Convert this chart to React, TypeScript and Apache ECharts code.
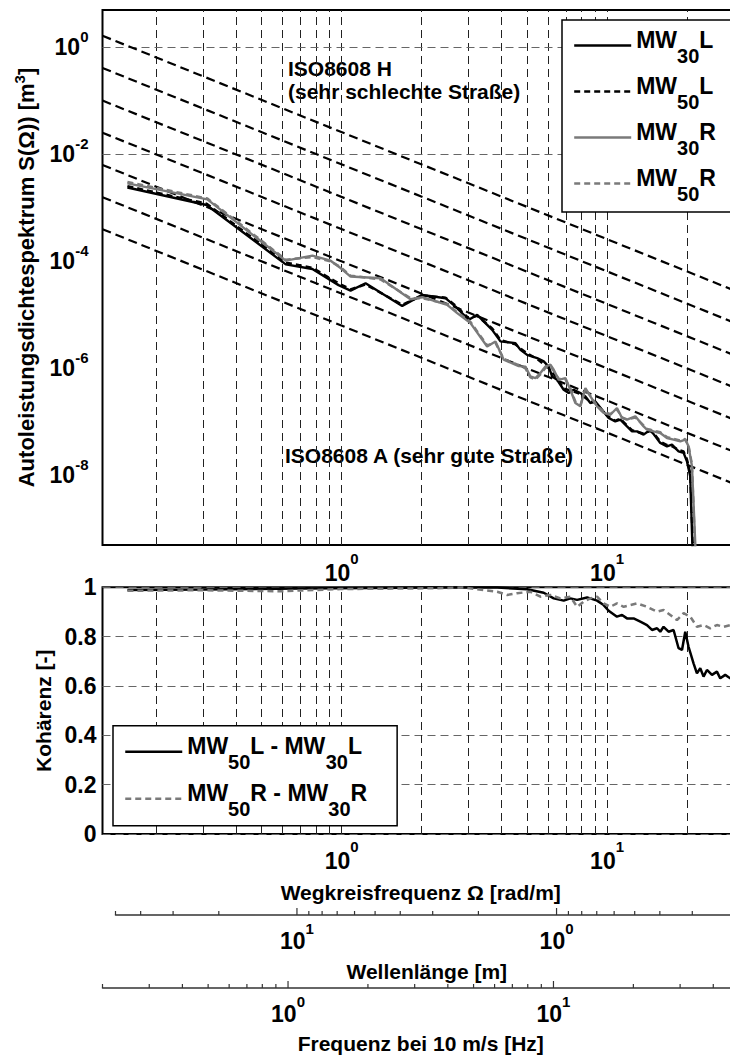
import { useEffect, useRef } from "react";
import * as echarts from "echarts";

type Pt = [number, number];

// Autoleistungsdichtespektrum: [Ω in rad/m, S(Ω) in m^3]
const psdMW30L: Pt[] = [
  [0.156, 2.4e-3], [0.31, 1.13e-3], [0.616, 8.8e-5], [0.776, 7.2e-5], [0.974, 3.6e-5],
  [1.081, 2.84e-5], [1.231, 3.9e-5], [1.692, 1.47e-5], [2.012, 2.36e-5], [2.463, 2.05e-5],
  [2.686, 1.43e-5], [3.014, 8.1e-6], [3.242, 1.0e-5], [3.692, 5.25e-6], [3.967, 3.2e-6],
  [4.518, 2.96e-6], [4.718, 2.22e-6], [5.0, 1.79e-6], [5.453, 1.56e-6], [5.773, 1.35e-6],
  [6.029, 1.08e-6], [6.209, 7.06e-7], [6.484, 6.12e-7], [6.866, 3.99e-7], [7.17, 3.46e-7],
  [7.488, 3.99e-7], [7.935, 3.46e-7], [8.287, 2.99e-7], [8.653, 2.25e-7], [9.036, 2.41e-7],
  [9.576, 1.69e-7], [10.14, 1.18e-7], [10.74, 1.02e-7], [11.22, 1.1e-7], [11.89, 8.24e-8],
  [12.42, 6.65e-8], [12.97, 6.65e-8], [13.73, 5.77e-8], [14.55, 7.15e-8], [15.2, 5.36e-8],
  [15.87, 4.04e-8], [16.82, 3.49e-8], [17.56, 3.76e-8], [18.6, 2.82e-8], [19.43, 2.63e-8],
  [20.0, 1.83e-8], [20.58, 9.6e-9], [21.18, 1e-10],
];
const psdMW50L: Pt[] = [
  [0.156, 2.55e-3], [0.31, 1.2e-3], [0.616, 9.5e-5], [0.776, 7.6e-5], [0.974, 3.9e-5],
  [1.081, 3.0e-5], [1.231, 3.7e-5], [1.692, 1.55e-5], [2.012, 2.3e-5], [2.463, 2.1e-5],
  [2.686, 1.5e-5], [3.014, 8.6e-6], [3.242, 9.6e-6], [3.692, 5.6e-6], [3.967, 3.4e-6],
  [4.518, 2.8e-6], [5.0, 1.9e-6], [5.453, 1.5e-6], [6.029, 1.0e-6], [6.484, 6.5e-7],
  [6.866, 4.2e-7], [7.488, 3.7e-7], [7.935, 3.3e-7], [8.653, 2.4e-7], [9.036, 2.3e-7],
  [9.576, 1.6e-7], [10.14, 1.25e-7], [10.74, 1.05e-7], [11.22, 1.15e-7], [11.89, 8.6e-8],
  [12.42, 7.0e-8], [13.73, 6.0e-8], [14.55, 6.8e-8], [15.2, 5.6e-8], [15.87, 4.3e-8],
  [16.82, 3.7e-8], [17.56, 3.5e-8], [18.6, 3.0e-8], [19.43, 2.8e-8], [20.0, 2.0e-8],
  [20.58, 1.1e-8], [21.3, 1e-10],
];
const psdMW30R: Pt[] = [
  [0.156, 2.86e-3], [0.312, 1.44e-3], [0.616, 1.03e-4], [0.776, 1.28e-4], [0.909, 1.03e-4],
  [0.991, 7.5e-5], [1.081, 5.2e-5], [1.402, 4.84e-5], [1.818, 1.96e-5], [2.012, 2.14e-5],
  [2.499, 1.54e-5], [2.726, 1.08e-5], [3.059, 7.0e-6], [3.534, 2.56e-6], [3.799, 3.18e-6],
  [4.082, 1.45e-6], [4.649, 1.1e-6], [4.926, 1.08e-6], [5.144, 7.06e-7], [5.372, 6.59e-7],
  [5.61, 8.17e-7], [5.86, 1.08e-6], [6.119, 1.17e-6], [6.296, 9.42e-7], [6.574, 6.12e-7],
  [6.968, 6.59e-7], [7.276, 3.99e-7], [7.598, 2.25e-7], [7.935, 1.95e-7], [8.287, 4.29e-7],
  [8.653, 2.99e-7], [9.171, 1.95e-7], [9.71, 1.47e-7], [10.29, 1.36e-7], [10.9, 1.82e-7],
  [11.39, 1.18e-7], [11.89, 1.1e-7], [12.78, 1.27e-7], [13.73, 8.24e-8], [14.14, 7.15e-8],
  [14.98, 6.65e-8], [15.87, 6.2e-8], [16.82, 5.0e-8], [17.81, 4.66e-8], [18.88, 4.33e-8],
  [19.71, 4.66e-8], [20.28, 3.49e-8], [20.89, 1.48e-8], [21.81, 1e-10],
];
const psdMW50R: Pt[] = [
  [0.156, 3.05e-3], [0.312, 1.5e-3], [0.616, 1.08e-4], [0.776, 1.2e-4], [0.909, 1.0e-4],
  [0.991, 7.8e-5], [1.081, 5.4e-5], [1.402, 4.6e-5], [1.818, 2.05e-5], [2.012, 2.05e-5],
  [2.499, 1.6e-5], [2.726, 1.12e-5], [3.059, 7.4e-6], [3.534, 2.7e-6], [3.799, 3.0e-6],
  [4.082, 1.5e-6], [4.649, 1.15e-6], [4.926, 1.0e-6], [5.144, 6.8e-7], [5.372, 6.2e-7],
  [5.61, 7.7e-7], [5.86, 1.02e-6], [6.119, 1.1e-6], [6.296, 9.0e-7], [6.574, 6.4e-7],
  [6.968, 6.2e-7], [7.276, 4.2e-7], [7.598, 2.4e-7], [7.935, 2.05e-7], [8.287, 4.0e-7],
  [8.653, 3.1e-7], [9.171, 2.0e-7], [9.71, 1.55e-7], [10.29, 1.4e-7], [10.9, 1.7e-7],
  [11.39, 1.22e-7], [11.89, 1.12e-7], [12.78, 1.2e-7], [13.73, 8.6e-8], [14.14, 7.4e-8],
  [14.98, 6.9e-8], [15.87, 6.4e-8], [16.82, 5.2e-8], [17.81, 4.8e-8], [18.88, 4.5e-8],
  [19.71, 4.8e-8], [20.28, 3.6e-8], [20.89, 1.6e-8], [21.7, 1e-10],
];

// Kohärenz: [Ω in rad/m, γ²]
const cohLeft: Pt[] = [
  [0.156, 0.989], [0.295, 0.991], [0.7, 0.995], [1.668, 0.998], [2.163, 0.999],
  [2.886, 0.999], [3.855, 0.999], [5.0, 0.992], [5.773, 0.978], [6.296, 0.955],
  [6.866, 0.946], [7.276, 0.955], [7.713, 0.949], [8.411, 0.959], [9.171, 0.946],
  [9.71, 0.928], [10.14, 0.905], [10.9, 0.881], [11.39, 0.888], [11.89, 0.874],
  [12.59, 0.874], [13.35, 0.861], [14.14, 0.847], [14.77, 0.827], [15.43, 0.834],
  [15.87, 0.82], [16.33, 0.84], [17.05, 0.82], [17.81, 0.827], [18.6, 0.753],
  [19.16, 0.746], [19.71, 0.82], [20.28, 0.759], [21.18, 0.692], [21.81, 0.651],
  [22.45, 0.672], [23.1, 0.638], [23.79, 0.665], [24.85, 0.645], [25.94, 0.658],
  [26.7, 0.631], [27.88, 0.645], [29.12, 0.631], [31.4, 0.64],
];
const cohRight: Pt[] = [
  [0.156, 0.986], [0.295, 0.988], [0.589, 0.984], [0.991, 0.993], [2.163, 0.996],
  [2.886, 0.999], [3.855, 0.982], [4.204, 0.969], [4.585, 0.976], [5.144, 0.982],
  [5.61, 0.962], [6.119, 0.969], [6.672, 0.955], [7.276, 0.962], [7.713, 0.921],
  [8.166, 0.942], [8.653, 0.955], [9.171, 0.962], [9.71, 0.935], [10.29, 0.921],
  [10.9, 0.935], [11.55, 0.921], [12.24, 0.928], [12.97, 0.935], [14.14, 0.921],
  [15.43, 0.901], [16.33, 0.908], [17.31, 0.888], [18.34, 0.867], [19.43, 0.895],
  [20.58, 0.881], [21.81, 0.84], [23.1, 0.847], [24.48, 0.834], [25.94, 0.847],
  [27.48, 0.84], [29.12, 0.847], [31.4, 0.84],
];

// ISO 8608 straight lines: S(Ω) = S(Ω0 = 1 rad/m) · Ω^-w
const isoLevelsAtUnitOmega = [6.3e-6, 2.5e-5, 1.0e-4, 4.0e-4, 1.6e-3, 6.5e-3, 2.6e-2];
const ISO_WAVINESS = 2;

// Axis ranges and tick positions
const omegaRange: [number, number] = [(2 * Math.PI) / 50, (2 * Math.PI) / 0.2];
const psdRange: [number, number] = [5e-10, 4.99];
const omegaGrid = [0.2, 0.3, 0.4, 0.5, 0.6, 0.7, 0.8, 0.9, 1, 2, 3, 4, 5, 6, 7, 8, 9, 10, 20, 30];
const psdGridLevels = [1, 1e-2, 1e-4, 1e-6, 1e-8];
const wavelengthRange: [number, number] = [0.2, 50];
const wavelengthTicks = [50, 40, 30, 20, 10, 9, 8, 7, 6, 5, 4, 3, 2, 1, 0.9, 0.8, 0.7, 0.6, 0.5, 0.4, 0.3, 0.2];
const wavelengthMajor = [10, 1];
const freqRange: [number, number] = [0.2, 50];
const freqTicks = [0.2, 0.3, 0.4, 0.5, 0.6, 0.7, 0.8, 0.9, 1, 2, 3, 4, 5, 6, 7, 8, 9, 10, 20, 30, 40, 50];
const freqMajor = [1, 10];

const FONT = '"Liberation Sans", Arial, Helvetica, sans-serif';
const GREY = "#7a7a7a";

const legendLabels: Record<string, string> = {
  MW30L: "{n|MW}{s|30}{n|L}",
  MW50L: "{n|MW}{s|50}{n|L}",
  MW30R: "{n|MW}{s|30}{n|R}",
  MW50R: "{n|MW}{s|50}{n|R}",
  "MW50L - MW30L": "{n|MW}{s|50}{n|L - MW}{s|30}{n|L}",
  "MW50R - MW30R": "{n|MW}{s|50}{n|R - MW}{s|30}{n|R}",
};

// main text sits at the top of the line box, the index at its bottom
const legendRich = {
  n: { fontFamily: FONT, fontWeight: "bold", fontSize: 23, color: "#000", verticalAlign: "top", lineHeight: 26, padding: [3, 0, 0, 0] },
  s: { fontFamily: FONT, fontWeight: "bold", fontSize: 20, color: "#000", verticalAlign: "bottom", lineHeight: 41 },
};

const powerRich = (shift: number) => ({
  b: { fontFamily: FONT, fontWeight: "bold", fontSize: 23, color: "#000" },
  e: { fontFamily: FONT, fontWeight: "bold", fontSize: 15, color: "#000", padding: [0, 0, shift * 2, 0] },
});

function powerLabel(v: number, evenOnly = false): string {
  const lg = Math.log10(v);
  const e = Math.round(lg);
  if (Math.abs(lg - e) > 1e-6) return "";
  if (evenOnly && e % 2 !== 0) return "";
  return `{b|10}{e|${e}}`;
}

const gridLine = { color: "#222", width: 1, type: [8, 5] as number[] };
const gridLineH = { color: "#666", width: 1, type: [8, 5] as number[] };
const nameStyle = { fontFamily: FONT, fontWeight: "bold", fontSize: 21, color: "#000" };

function tickSeries(axisIndex: number, ticks: number[], majors: number[]) {
  return {
    type: "custom",
    xAxisIndex: axisIndex,
    yAxisIndex: axisIndex,
    silent: true,
    z: 3,
    data: ticks.map((v) => [v, majors.includes(v) ? 1 : 0]),
    renderItem: (_params: unknown, api: any) => {
      const p = api.coord([api.value(0), 0]);
      const len = api.value(1) ? 7 : 4;
      return {
        type: "line",
        shape: { x1: p[0], y1: p[1], x2: p[0], y2: p[1] - len },
        style: { stroke: "#333", lineWidth: 1.2 },
      };
    },
  };
}

function legendBox(names: string[], left: number, top: number, padding: number[], itemGap: number) {
  return {
    data: names,
    left, top, orient: "vertical", selectedMode: false,
    padding, itemGap, itemWidth: 57, itemHeight: 14,
    backgroundColor: "#fff", borderColor: "#000", borderWidth: 1.5, borderRadius: 0,
    itemStyle: { opacity: 0 },
    lineStyle: { width: "inherit" },
    formatter: (name: string) => legendLabels[name],
    textStyle: { fontFamily: FONT, fontWeight: "bold", fontSize: 23, color: "#000", rich: legendRich },
  };
}

function buildOption() {
  const plotGrid = { show: true, borderColor: "#000", borderWidth: 2, backgroundColor: "#fff", containLabel: false, outerBoundsMode: "none" };
  const bareGrid = { show: false, containLabel: false, outerBoundsMode: "none" };
  const lineBase = { type: "line", symbol: "none", showSymbol: false, silent: true, z: 3 };
  const omegaAxis = {
    type: "log", min: omegaRange[0], max: omegaRange[1],
    axisLine: { show: false }, axisTick: { show: false }, splitLine: { show: false },
  };

  return {
    animation: false,
    backgroundColor: "#fff",
    textStyle: { fontFamily: FONT, color: "#000" },
    grid: [
      { ...plotGrid, left: 102.5, top: 10, width: 636.5, height: 535 },
      { ...plotGrid, left: 102.5, top: 587.3, width: 636.5, height: 246.7 },
      { ...bareGrid, left: 115.5, top: 905, width: 622.5, height: 10 },
      { ...bareGrid, left: 102.5, top: 978, width: 636.5, height: 10 },
    ],
    xAxis: [
      {
        ...omegaAxis, gridIndex: 0,
        axisLabel: { formatter: (v: number) => powerLabel(v), rich: powerRich(14), margin: 6, showMinLabel: false, showMaxLabel: false },
      },
      {
        ...omegaAxis, gridIndex: 1,
        axisLabel: { formatter: (v: number) => powerLabel(v), rich: powerRich(14), margin: 5, showMinLabel: false, showMaxLabel: false },
        name: "Wegkreisfrequenz Ω [rad/m]", nameLocation: "middle", nameGap: 48, nameTextStyle: nameStyle,
      },
      {
        gridIndex: 2, type: "log", inverse: true, min: wavelengthRange[0], max: wavelengthRange[1],
        axisLine: { show: true, lineStyle: { color: "#333", width: 1.5 } }, axisTick: { show: false }, splitLine: { show: false },
        axisLabel: { formatter: (v: number) => powerLabel(v), rich: powerRich(12), margin: 6, showMinLabel: false, showMaxLabel: false },
        name: "Wellenlänge [m]", nameLocation: "middle", nameGap: 46, nameTextStyle: nameStyle,
      },
      {
        gridIndex: 3, type: "log", min: freqRange[0], max: freqRange[1],
        axisLine: { show: true, lineStyle: { color: "#333", width: 1.5 } }, axisTick: { show: false }, splitLine: { show: false },
        axisLabel: { formatter: (v: number) => powerLabel(v), rich: powerRich(12), margin: 6, showMinLabel: false, showMaxLabel: false },
        name: "Frequenz bei 10 m/s [Hz]", nameLocation: "middle", nameGap: 45, nameTextStyle: nameStyle,
      },
    ],
    yAxis: [
      {
        gridIndex: 0, type: "log", min: psdRange[0], max: psdRange[1], splitNumber: 10,
        axisLine: { show: false }, axisTick: { show: false }, splitLine: { show: false },
        axisLabel: { formatter: (v: number) => powerLabel(v, true), rich: powerRich(11), margin: 14, showMinLabel: false, showMaxLabel: false },
        name: "{t|Autoleistungsdichtespektrum S(Ω)) [m}{u|3}{t|]}", nameLocation: "middle", nameGap: 62, nameRotate: 90,
        nameTextStyle: {
          rich: {
            t: { fontFamily: FONT, fontWeight: "bold", fontSize: 22, color: "#000" },
            u: { fontFamily: FONT, fontWeight: "bold", fontSize: 15, color: "#000", padding: [0, 0, 14, 0] },
          },
        },
      },
      {
        gridIndex: 1, type: "value", min: 0, max: 1, interval: 0.2,
        axisLine: { show: false }, axisTick: { show: false },
        splitLine: { show: true, lineStyle: gridLineH },
        axisLabel: { fontFamily: FONT, fontWeight: "bold", fontSize: 23, color: "#000", margin: 6 },
        name: "Kohärenz [-]", nameLocation: "middle", nameGap: 48, nameRotate: 90, nameTextStyle: nameStyle,
      },
      { gridIndex: 2, type: "value", min: 0, max: 1, show: false },
      { gridIndex: 3, type: "value", min: 0, max: 1, show: false },
    ],
    legend: [
      legendBox(["MW30L", "MW50L", "MW30R", "MW50R"], 562, 20, [5, 40, 8, 11], 5),
      legendBox(["MW50L - MW30L", "MW50R - MW30R"], 113, 725.7, [5.5, 30, 6.5, 11], 6),
    ],
    graphic: [
      {
        type: "text", x: 288, y: 56.5, silent: true,
        style: { text: "ISO8608 H\n(sehr schlechte Straße)", font: `bold 21px ${FONT}`, lineHeight: 23, fill: "#000", verticalAlign: "top" },
      },
      {
        type: "text", x: 285, y: 444, silent: true,
        style: { text: "ISO8608 A (sehr gute Straße)", font: `bold 21px ${FONT}`, lineHeight: 23, fill: "#000", verticalAlign: "top" },
      },
    ],
    series: [
      // dashed grid of the spectrum panel
      {
        type: "line", xAxisIndex: 0, yAxisIndex: 0, data: [], silent: true, z: 1,
        markLine: {
          silent: true, symbol: ["none", "none"], z: 1, label: { show: false }, emphasis: { disabled: true },
          lineStyle: gridLine,
          data: [
            ...omegaGrid.map((v) => ({ xAxis: v })),
            ...psdGridLevels.map((v) => ({ yAxis: v, lineStyle: gridLineH })),
          ],
        },
      },
      // vertical grid of the coherence panel
      {
        type: "line", xAxisIndex: 1, yAxisIndex: 1, data: [], silent: true, z: 1,
        markLine: {
          silent: true, symbol: ["none", "none"], z: 1, label: { show: false }, emphasis: { disabled: true },
          lineStyle: gridLine,
          data: omegaGrid.map((v) => ({ xAxis: v })),
        },
      },
      ...isoLevelsAtUnitOmega.map((lvl, i) => ({
        ...lineBase, name: `ISO8608-${i}`, xAxisIndex: 0, yAxisIndex: 0, z: 2,
        lineStyle: { color: "#000", width: 2.2, type: [9, 5] },
        data: omegaRange.map((w) => [w, lvl * Math.pow(w, -ISO_WAVINESS)]),
      })),
      { ...lineBase, name: "MW30L", xAxisIndex: 0, yAxisIndex: 0, data: psdMW30L, itemStyle: { color: "#000" }, lineStyle: { color: "#000", width: 2.4, type: "solid" } },
      { ...lineBase, name: "MW50L", xAxisIndex: 0, yAxisIndex: 0, data: psdMW50L, itemStyle: { color: "#000" }, lineStyle: { color: "#000", width: 2.4, type: [6, 4] } },
      { ...lineBase, name: "MW30R", xAxisIndex: 0, yAxisIndex: 0, data: psdMW30R, itemStyle: { color: GREY }, lineStyle: { color: GREY, width: 2.4, type: "solid" } },
      { ...lineBase, name: "MW50R", xAxisIndex: 0, yAxisIndex: 0, data: psdMW50R, itemStyle: { color: GREY }, lineStyle: { color: GREY, width: 2.4, type: [6, 4] } },
      { ...lineBase, name: "MW50L - MW30L", xAxisIndex: 1, yAxisIndex: 1, data: cohLeft, itemStyle: { color: "#000" }, lineStyle: { color: "#000", width: 2.5, type: "solid" } },
      { ...lineBase, name: "MW50R - MW30R", xAxisIndex: 1, yAxisIndex: 1, data: cohRight, itemStyle: { color: GREY }, lineStyle: { color: GREY, width: 2.5, type: [6, 4] } },
      tickSeries(2, wavelengthTicks, wavelengthMajor),
      tickSeries(3, freqTicks, freqMajor),
    ],
  };
}

export default function App() {
  const ref = useRef<HTMLDivElement>(null);
  useEffect(() => {
    if (!ref.current) return;
    const chart = echarts.init(ref.current, undefined, { renderer: "svg" });
    chart.setOption(buildOption() as any);
    return () => chart.dispose();
  }, []);
  return (
    <div style={{ position: "fixed", left: 0, top: 0, width: 730, height: 1055, overflow: "hidden", background: "#fff" }}>
      <div ref={ref} style={{ width: 760, height: 1055 }} />
    </div>
  );
}
